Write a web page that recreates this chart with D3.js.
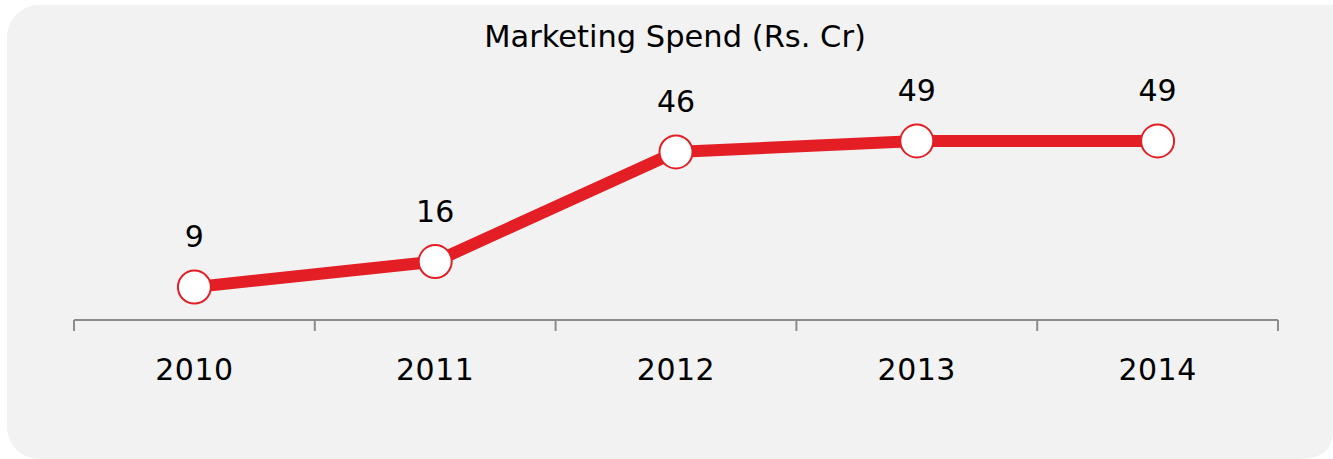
<!DOCTYPE html>
<html lang="en">
<head>
<meta charset="utf-8">
<title>Marketing Spend</title>
<style type="text/css">
body {
  margin: 0;
  background: #fff;
}
text {
  font-family: "DejaVu Sans", sans-serif;
  fill: #000;
}
.axis path, .axis line {
  stroke: #8c8c8c;
  stroke-width: 2px;
}
</style>
</head>
<body>
<svg width="1333" height="459"></svg>
<script src="https://d3js.org/d3.v7.min.js"></script>
<script>
var years = ["2010", "2011", "2012", "2013", "2014"];
var spend = [9, 16, 46, 49, 49];
var title = "Marketing Spend (Rs. Cr)";

var svg = d3.select("svg"),
    lineColor = "#e31e25";

// grey panel with rounded corners
svg.append("rect")
    .attr("x", 7).attr("y", 5)
    .attr("width", 1360).attr("height", 454)
    .attr("rx", 32).attr("ry", 32)
    .attr("fill", "#f2f2f2");

svg.append("path")
    .attr("d", "M1300,459 Q1333,459 1333,430 L1333,459 Z")
    .attr("fill", "#fff");

var x = d3.scaleBand().domain(years).range([74, 1278]);
var y = d3.scaleLinear().domain([0, 49]).range([320, 141]);

var data = years.map(function(d, i) { return {year: d, value: spend[i]}; });

svg.append("text")
    .attr("x", 675).attr("y", 47)
    .attr("text-anchor", "middle")
    .style("font-size", "30.5px")
    .text(title);

// axis: line with ticks at band edges
var axis = svg.append("g").attr("class", "axis");
axis.append("line")
    .attr("x1", x.range()[0]).attr("x2", x.range()[1])
    .attr("y1", y(0)).attr("y2", y(0));
axis.selectAll(".tick")
    .data(years.concat(["end"]))
    .enter().append("line")
    .attr("x1", function(d, i) { return x.range()[0] + i * x.bandwidth(); })
    .attr("x2", function(d, i) { return x.range()[0] + i * x.bandwidth(); })
    .attr("y1", y(0)).attr("y2", y(0) + 11);

svg.selectAll(".year")
    .data(years)
    .enter().append("text")
    .attr("class", "year")
    .attr("x", function(d) { return x(d) + x.bandwidth() / 2; })
    .attr("y", 380)
    .attr("text-anchor", "middle")
    .style("font-size", "30px")
    .style("letter-spacing", "0.5px")
    .text(function(d) { return d; });

var line = d3.line()
    .x(function(d) { return x(d.year) + x.bandwidth() / 2; })
    .y(function(d) { return y(d.value); });

svg.append("path")
    .datum(data)
    .attr("d", line)
    .attr("fill", "none")
    .attr("stroke", lineColor)
    .attr("stroke-width", 12);

svg.selectAll(".dot")
    .data(data)
    .enter().append("circle")
    .attr("cx", function(d) { return x(d.year) + x.bandwidth() / 2; })
    .attr("cy", function(d) { return y(d.value); })
    .attr("r", 16.5)
    .attr("fill", "#fff")
    .attr("stroke", lineColor)
    .attr("stroke-width", 2);

svg.selectAll(".label")
    .data(data)
    .enter().append("text")
    .attr("x", function(d) { return x(d.year) + x.bandwidth() / 2; })
    .attr("y", function(d) { return y(d.value) - 40; })
    .attr("text-anchor", "middle")
    .style("font-size", "30px")
    .text(function(d) { return d.value; });
</script>
</body>
</html>
